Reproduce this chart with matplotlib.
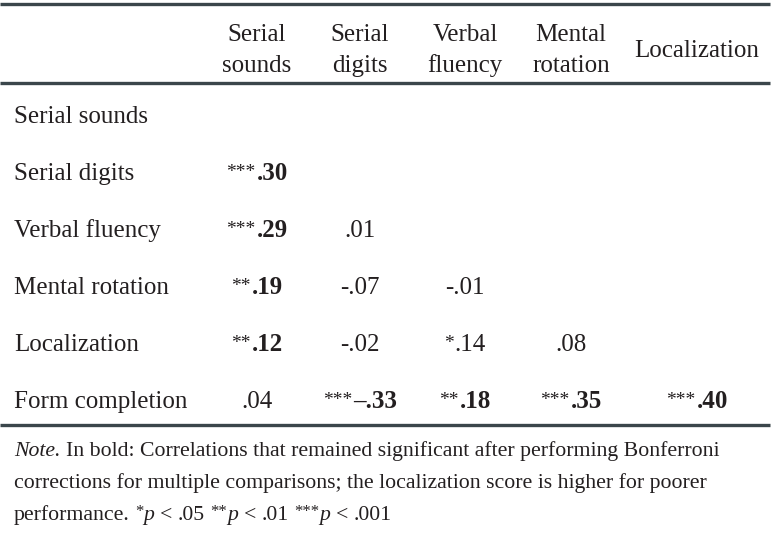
import matplotlib
matplotlib.use("Agg")
import matplotlib.pyplot as plt

# ---------------- data ----------------
variables = ["Serial sounds", "Serial digits", "Verbal fluency",
             "Mental rotation", "Localization", "Form completion"]
col_headers = ["Serial\nsounds", "Serial\ndigits", "Verbal\nfluency",
               "Mental\nrotation", "Localization"]
corr = [
    [],
    [0.30],
    [0.29, 0.01],
    [0.19, -0.07, -0.01],
    [0.12, -0.02, 0.14, 0.08],
    [0.04, -0.33, 0.18, 0.35, 0.40],
]
stars = [
    [],
    [3],
    [3, 0],
    [2, 0, 0],
    [2, 0, 1, 0],
    [0, 3, 2, 3, 3],
]
bold = [
    [],
    [True],
    [True, False],
    [True, False, False],
    [True, False, False, False],
    [False, True, True, True, True],
]
note_line1 = "In bold: Correlations that remained significant after performing Bonferroni"
note_line2 = "corrections for multiple comparisons; the localization score is higher for poorer"
note_line3_start = "performance."
p_levels = [("*", ".05"), ("**", ".01"), ("***", ".001")]

# ---------------- style ----------------
W, H = 775, 533
FONT = "Liberation Serif"
TXT = "#231f20"
RULE = "#3b464b"
FS = 18.0
STAR_FS = 14
NOTE_FS = 15.7

fig = plt.figure(figsize=(W / 100, H / 100), dpi=100)
ax = fig.add_axes([0, 0, 1, 1])
ax.set_xlim(0, W)
ax.set_ylim(H, 0)
ax.axis("off")
renderer = fig.canvas.get_renderer()


def width(s, **kw):
    t = ax.text(0, 0, s, fontfamily=FONT, **kw)
    w = t.get_window_extent(renderer).width
    t.remove()
    return w


def fmt(v, is_bold):
    s = f"{abs(v):.2f}".lstrip("0")
    if v < 0:
        s = ("\u2013" if is_bold else "-") + s
    return s


# rules
for y in [4, 83, 425]:
    ax.plot([0, 770], [y, y], color=RULE, lw=2.4, solid_capstyle="butt")

# column headers
col_x = [257, 360, 465, 571, 697]
for x, h in zip(col_x, col_headers):
    lines = h.split("\n")
    if len(lines) == 2:
        ax.text(x, 41, lines[0], ha="center", va="baseline", fontsize=FS,
                fontfamily=FONT, color=TXT)
        ax.text(x, 72, lines[1], ha="center", va="baseline", fontsize=FS,
                fontfamily=FONT, color=TXT)
    else:
        ax.text(x, 57, lines[0], ha="center", va="baseline", fontsize=FS,
                fontfamily=FONT, color=TXT)

# rows
row_base = [123, 180, 237, 294, 351, 408]
for r, name in enumerate(variables):
    yb = row_base[r]
    ax.text(14, yb, name, ha="left", va="baseline", fontsize=FS,
            fontfamily=FONT, color=TXT)
    for c, v in enumerate(corr[r]):
        b = bold[r][c]
        s = fmt(v, b)
        st = "*" * stars[r][c]
        fw = "bold" if b else "normal"
        wv = width(s, fontsize=FS, fontweight=fw)
        ws = width(st, fontsize=STAR_FS) + 1 if st else 0
        x0 = col_x[c] - (wv + ws) / 2
        if st:
            ax.text(x0, yb - 3, st, ha="left", va="baseline", fontsize=STAR_FS,
                    fontfamily=FONT, color=TXT)
        ax.text(x0 + ws, yb, s, ha="left", va="baseline", fontsize=FS,
                fontweight=fw, fontfamily=FONT, color=TXT)

# note
sp = width("a a", fontsize=NOTE_FS) - width("aa", fontsize=NOTE_FS)


def runs(x, y, items):
    for text, kw, dy, gap_after in items:
        ax.text(x, y + dy, text, ha="left", va="baseline", fontfamily=FONT,
                color=TXT, **kw)
        x += width(text, **kw) + (sp if gap_after else 0)


nkw = dict(fontsize=NOTE_FS)
ikw = dict(fontsize=NOTE_FS, fontstyle="italic")
skw = dict(fontsize=12)
runs(14, 456, [("Note.", ikw, 0, True), (note_line1, nkw, 0, False)])
runs(14, 488, [(note_line2, nkw, 0, False)])
items = [(note_line3_start, nkw, 0, True)]
for st, val in p_levels:
    items.append((st, skw, -4, False))
    items.append(("p", ikw, 0, True))
    items.append(("<", nkw, 0, True))
    items.append((val, nkw, 0, True))
runs(14, 520, items)

fig.savefig("out.png", dpi=100, facecolor="white")
